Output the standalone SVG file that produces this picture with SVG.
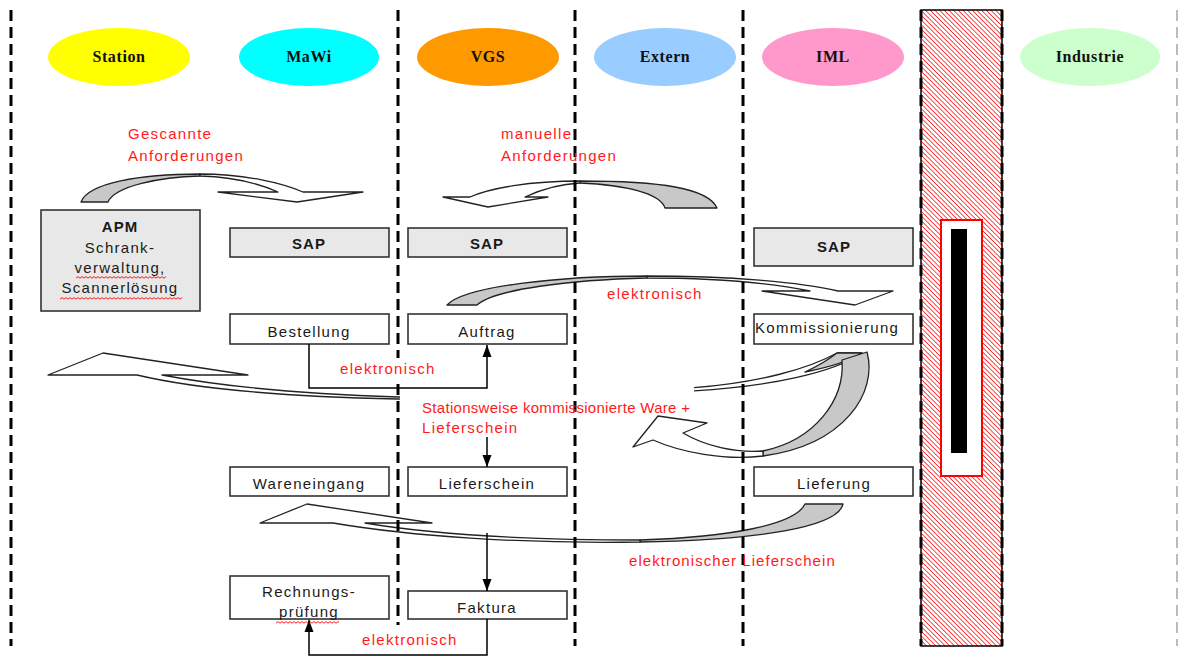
<svg xmlns="http://www.w3.org/2000/svg" width="1178" height="657" viewBox="0 0 1178 657">
  <defs>
    <style>
      .lane-line { stroke: #000; stroke-width: 3; stroke-dasharray: 11 6; fill: none; }
      .lane-txt { font-family: "Liberation Serif", "Times New Roman", serif; font-size: 16px; font-weight: bold; letter-spacing: 0.6px; fill: #111; text-anchor: middle; }
      .box { fill: #fff; stroke: #333; stroke-width: 1.6; }
      .sys { fill: #e8e8e8; stroke: #333; stroke-width: 1.6; }
      .txt { font-family: "Liberation Sans", Arial, sans-serif; font-size: 15px; letter-spacing: 1.3px; fill: #1a1a1a; text-anchor: middle; }
      .bold { font-weight: bold; letter-spacing: 1px; }
      .note { font-family: "Liberation Sans", Arial, sans-serif; font-size: 15px; letter-spacing: 1.3px; fill: #ff1a1a; }
      .ribbon { fill: #fff; stroke: #222; stroke-width: 1.3; stroke-linejoin: round; }
      .ribbon-back { fill: #c8c8c8; stroke: #222; stroke-width: 1.3; stroke-linejoin: round; }
      .flow { fill: none; stroke: #000; stroke-width: 1.5; }
    </style>
    <pattern id="hatch" width="3.3" height="3.3" patternUnits="userSpaceOnUse" patternTransform="rotate(-45)">
      <line x1="0" y1="0" x2="0" y2="3.3" stroke="#ff0000" stroke-width="1.4"/>
    </pattern>
    <pattern id="squiggle" width="4" height="3" patternUnits="userSpaceOnUse">
      <path d="M0,2.2 L2,0.6 L4,2.2" fill="none" stroke="#ff0000" stroke-width="0.9"/>
    </pattern>
    <marker id="head" viewBox="0 0 12 10" markerWidth="12" markerHeight="10" refX="12" refY="5" orient="auto" markerUnits="userSpaceOnUse">
      <path d="M0,0.5 L12,5 L0,9.5 Z" fill="#000"/>
    </marker>
    <clipPath id="behind-label">
      <rect x="0" y="0" width="400" height="657"/>
      <rect x="694" y="0" width="484" height="657"/>
    </clipPath>
  </defs>

  <rect x="0" y="0" width="1178" height="657" fill="#fff"/>

  <!-- blocked zone between IML and Industrie -->
  <g id="barrier">
    <rect x="921" y="10" width="81" height="636" fill="url(#hatch)" stroke="#000" stroke-width="1.5"/>
    <rect x="941" y="220" width="41" height="256" fill="#fff" stroke="#ff0000" stroke-width="2"/>
    <rect x="951" y="229" width="16" height="224" fill="#000"/>
  </g>

  <!-- curved block arrows -->
  <g id="flows">
    <!-- scanned requests: Station -> MaWi -->
    <g id="flow-scanned">
      <path class="ribbon-back" d="M81,202 C88,183 140,174 200,174 L200,176 C160,177 115,186 108,202 Z"/>
      <path class="ribbon" d="M200,174 C245,174 282,183 303,192 L363,192 L297,202 L218,192 L278,192 C260,184 235,177 200,176 Z"/>
    </g>
    <!-- manual requests: IML side -> VGS -->
    <g id="flow-manual">
      <path class="ribbon-back" d="M717,208 C708,188 660,181 580,181 L580,183 C625,185 660,193 665,208 Z"/>
      <path class="ribbon" d="M580,181 C530,181 490,188 470,197 L443,197 L488,207 L548,197 L525,197 C540,190 560,184 580,183 Z"/>
    </g>
    <!-- electronic order: VGS -> IML -->
    <g id="flow-order">
      <path class="ribbon-back" d="M447,305 C465,286 560,276 647,276 L647,278 C570,280 495,289 477,305 Z"/>
      <path class="ribbon" d="M647,276 C730,276 800,282 838,291 L893,291 L855,305 L762,291 L810,291 C770,283 710,278 647,278 Z"/>
    </g>
    <!-- picked goods back to the station -->
    <g id="flow-goods" clip-path="url(#behind-label)">
      <path class="ribbon" d="M862,353 C835,372 770,387 690,391 C560,398 460,401 398,399 C300,397 200,390 137,375 L48,375 L103,353 L248,375 L162,375 C220,386 300,394 398,397 C470,397 560,395 690,388 C760,383 810,368 837,353 Z"/>
      <path class="ribbon-back" d="M837,353 L862,353 C850,361 830,367 805,372 C818,366 828,360 837,353 Z"/>
    </g>
    <!-- U-turn from picking -->
    <g id="flow-uturn">
      <path class="ribbon-back" d="M867,352 C878,392 845,445 763,456 L763,451 C815,440 845,400 842,360 Z"/>
      <path class="ribbon" d="M763,456 C725,461 680,452 653,440 L633,447 L658,416 L707,423 L683,433 C705,446 735,453 763,451 Z"/>
    </g>
    <!-- electronic delivery note: IML -> MaWi -->
    <g id="flow-delivery">
      <path class="ribbon-back" d="M805,504 L843,504 C838,527 760,540 640,542 L640,540 C730,537 795,525 805,504 Z"/>
      <path class="ribbon" d="M640,542 C520,544 410,536 333,523 L260,523 L307,504 L432,523 L365,523 C430,534 530,540 640,540 Z"/>
    </g>
  </g>

  <!-- lane separators -->
  <g id="lanes">
    <line class="lane-line" x1="11" y1="10" x2="11" y2="646"/>
    <line class="lane-line" x1="398" y1="10" x2="398" y2="646"/>
    <line class="lane-line" x1="575" y1="10" x2="575" y2="646"/>
    <line class="lane-line" x1="743" y1="10" x2="743" y2="646"/>
    <line class="lane-line" x1="921" y1="10" x2="921" y2="646"/>
    <line class="lane-line" x1="1002" y1="10" x2="1002" y2="646"/>
    <line x1="1177" y1="10" x2="1177" y2="646" stroke="#bbb" stroke-width="2" stroke-dasharray="11 6"/>
  </g>

  <!-- lane headers -->
  <g id="lane-station">
    <ellipse cx="119" cy="57" rx="71" ry="29" fill="#ffff00"/>
    <text class="lane-txt" x="119" y="62">Station</text>
  </g>
  <g id="lane-mawi">
    <ellipse cx="309" cy="57" rx="70" ry="29" fill="#00ffff"/>
    <text class="lane-txt" x="309" y="62">MaWi</text>
  </g>
  <g id="lane-vgs">
    <ellipse cx="488" cy="57" rx="71" ry="29" fill="#ff9900"/>
    <text class="lane-txt" x="488" y="62">VGS</text>
  </g>
  <g id="lane-extern">
    <ellipse cx="665" cy="57" rx="71" ry="29" fill="#99ccff"/>
    <text class="lane-txt" x="665" y="62">Extern</text>
  </g>
  <g id="lane-iml">
    <ellipse cx="833" cy="57" rx="71" ry="29" fill="#ff99cc"/>
    <text class="lane-txt" x="833" y="62">IML</text>
  </g>
  <g id="lane-industrie">
    <ellipse cx="1090" cy="57" rx="70" ry="29" fill="#ccffcc"/>
    <text class="lane-txt" x="1090" y="62">Industrie</text>
  </g>

  <!-- process steps -->
  <g id="apm">
    <rect class="sys" x="41" y="210" width="159" height="101"/>
    <text class="txt bold" x="120" y="232">APM</text>
    <text class="txt" x="120" y="253">Schrank-</text>
    <text class="txt" x="120" y="273">verwaltung,</text>
    <text class="txt" x="120" y="293">Scannerlösung</text>
    <rect x="76" y="276" width="90" height="3" fill="url(#squiggle)"/>
    <rect x="60" y="297" width="122" height="3" fill="url(#squiggle)"/>
  </g>
  <g id="sap-mawi">
    <rect class="sys" x="230" y="228" width="159" height="29"/>
    <text class="txt bold" x="309" y="249">SAP</text>
  </g>
  <g id="sap-vgs">
    <rect class="sys" x="408" y="228" width="159" height="29"/>
    <text class="txt bold" x="487" y="249">SAP</text>
  </g>
  <g id="sap-iml">
    <rect class="sys" x="754" y="228" width="159" height="38"/>
    <text class="txt bold" x="834" y="252">SAP</text>
  </g>
  <g id="bestellung">
    <rect class="box" x="230" y="314" width="159" height="30"/>
    <text class="txt" x="309" y="337">Bestellung</text>
  </g>
  <g id="auftrag">
    <rect class="box" x="408" y="314" width="159" height="30"/>
    <text class="txt" x="487" y="337">Auftrag</text>
  </g>
  <g id="kommissionierung">
    <rect class="box" x="754" y="314" width="159" height="30"/>
    <text class="txt" x="755" y="333" style="text-anchor:start">Kommissionierung</text>
  </g>
  <g id="wareneingang">
    <rect class="box" x="230" y="467" width="159" height="29"/>
    <text class="txt" x="309" y="489">Wareneingang</text>
  </g>
  <g id="lieferschein">
    <rect class="box" x="408" y="467" width="159" height="29"/>
    <text class="txt" x="487" y="489">Lieferschein</text>
  </g>
  <g id="lieferung">
    <rect class="box" x="754" y="467" width="159" height="29"/>
    <text class="txt" x="834" y="489">Lieferung</text>
  </g>
  <g id="rechnungspruefung">
    <rect class="box" x="230" y="576" width="159" height="43"/>
    <text class="txt" x="309" y="597">Rechnungs-</text>
    <text class="txt" x="309" y="617">prüfung</text>
    <rect x="276" y="621" width="63" height="3" fill="url(#squiggle)"/>
  </g>
  <g id="faktura">
    <rect class="box" x="408" y="591" width="159" height="28"/>
    <text class="txt" x="487" y="613">Faktura</text>
  </g>

  <!-- straight connectors -->
  <g id="connectors">
    <path class="flow" d="M309,344 V388 H487 V345" marker-end="url(#head)"/>
    <path class="flow" d="M487,437 V467" marker-end="url(#head)"/>
    <path class="flow" d="M487,533 V591" marker-end="url(#head)"/>
    <path class="flow" d="M487,619 V655 H309 V620" marker-end="url(#head)"/>
  </g>

  <!-- annotations -->
  <g id="labels">
    <text class="note" x="128" y="139">Gescannte</text>
    <text class="note" x="128" y="161">Anforderungen</text>
    <text class="note" x="501" y="139">manuelle</text>
    <text class="note" x="501" y="161">Anforderungen</text>
    <text class="note" x="607" y="299">elektronisch</text>
    <rect x="334" y="358" width="106" height="23" fill="#fff"/>
    <text class="note" x="340" y="374">elektronisch</text>
    <text class="note" x="422" y="413" style="letter-spacing:0.3px">Stationsweise kommissionierte Ware +</text>
    <text class="note" x="422" y="433">Lieferschein</text>
    <text class="note" x="629" y="566" style="letter-spacing:1.05px">elektronischer Lieferschein</text>
    <rect x="357" y="625" width="105" height="25" fill="#fff"/>
    <text class="note" x="362" y="645">elektronisch</text>
  </g>
</svg>
